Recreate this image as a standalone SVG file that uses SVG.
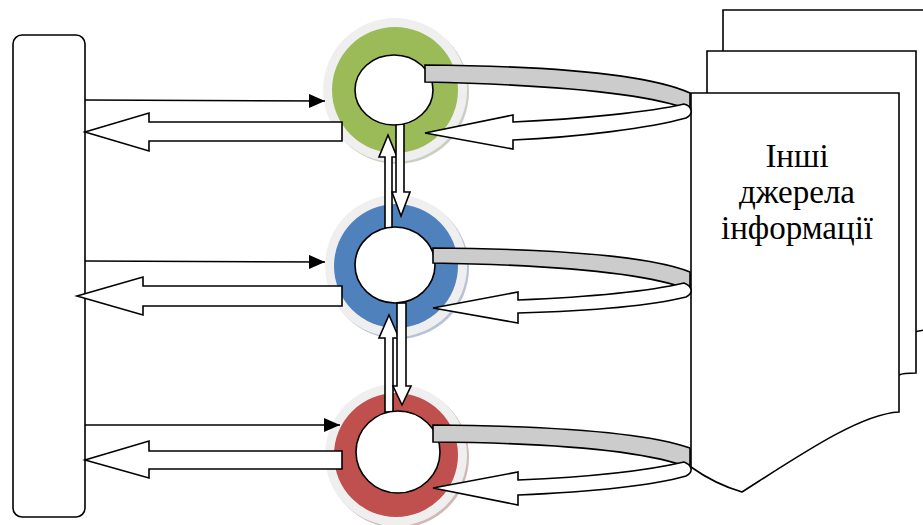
<svg xmlns="http://www.w3.org/2000/svg" width="923" height="525" viewBox="0 0 923 525">
<style>
.ol{stroke:#000;stroke-width:1.6;stroke-linejoin:miter}
.w{fill:#fff}
.band{fill:#cccccc}
.halo{fill:#efefef}
.thin{stroke:#000;stroke-width:1.6;fill:none}
.lbl{font-family:"Times New Roman","Liberation Serif",Tinos,"DejaVu Serif",serif;font-size:33px;fill:#000;text-anchor:middle}
</style>
<defs>
<marker id="ah" viewBox="0 0 16 14" refX="16" refY="7" markerWidth="16" markerHeight="14" markerUnits="userSpaceOnUse" orient="auto">
<path d="M0,0 L16,7 L0,14 Z" fill="#000"/>
</marker>
</defs>
<rect width="923" height="525" fill="#fff"/>

<g id="source-box">
<rect class="ol w" x="13" y="35" width="72" height="482" rx="9"/>
</g>

<g id="documents">
<path class="ol w" d="M723,10 H935 V328 C 925,330 917,331 910,333 L723,333 Z"/>
<path class="ol w" d="M707,51 H916 V373 C 910,373 903,373 899,375 L707,375 Z"/>
<path class="ol w" d="M691,93 H899 V412 C 860,414 800,455 742,492 C 725,487 705,477 691,467 Z"/>
<text class="lbl" x="797" y="167">Інші</text>
<text class="lbl" x="797" y="203">джерела</text>
<text class="lbl" x="797" y="239">інформації</text>
</g>

<g id="node-green">
<circle cx="397" cy="92" r="72" fill="#b4bca4" opacity="0.7"/>
<circle class="halo" cx="395" cy="90" r="72"/>
<circle cx="395" cy="90" r="63" fill="#9BBB59"/>
</g>
<g id="node-blue">
<circle cx="398" cy="268" r="71" fill="#9aaac4" opacity="0.7"/>
<circle class="halo" cx="396" cy="266" r="71"/>
<circle cx="396" cy="266" r="62" fill="#4F81BD"/>
</g>
<g id="node-red">
<circle cx="398" cy="457" r="71" fill="#bf9b9a" opacity="0.7"/>
<circle class="halo" cx="396" cy="455" r="71"/>
<circle cx="396" cy="455" r="62" fill="#C0504D"/>
</g>

<g id="connectors">
<line class="thin" x1="85" y1="100" x2="325" y2="101" marker-end="url(#ah)"/>
<line class="thin" x1="85" y1="261" x2="325" y2="262" marker-end="url(#ah)"/>
<line class="thin" x1="85" y1="425" x2="340" y2="425" marker-end="url(#ah)"/>
<path class="ol w" d="M342,122 L149,122 L149,113 L85,132 L149,151 L149,141 L342,141 Z"/>
<path class="ol w" d="M342,286 L143,286 L143,277 L77,296 L143,315 L143,306 L342,306 Z"/>
<path class="ol w" d="M342,451 L149,451 L149,441 L85,460 L149,478 L149,469 L342,469 Z"/>

<path class="ol w" d="M388,135 L397,157 L392,157 L392,229 L385,229 L385,157 L379,157 Z"/>
<path class="ol w" d="M396,124 L404,124 L404,192 L410,192 L401,216 L392,192 L396,192 Z"/>
<path class="ol w" d="M389,315 L399,338 L393,338 L393,412 L385,412 L385,338 L379,338 Z"/>
<path class="ol w" d="M397,303 L406,303 L406,386 L411,386 L402,405 L393,386 L397,386 Z"/>
</g>

<g id="inner-circles">
<ellipse class="ol w" cx="394" cy="90" rx="39" ry="35"/>
<ellipse class="ol w" cx="395" cy="265" rx="40" ry="38"/>
<ellipse class="ol w" cx="398" cy="452" rx="42" ry="41"/>
</g>

<g id="loops">
<path class="ol band" d="M425,65 C 560,66 650,75 690,93 L690,110 C 650,94 560,85 425,82 Z"/>
<path class="ol w" d="M513,122 C 580,119 650,112 684,104 C 692,106 694,114 686,118 C 650,128 580,137 513,140 L513,149 L425,133 L513,115 Z"/>
<path class="ol band" d="M433,248 C 560,249 650,256 690,272 L690,290 C 650,274 560,265 433,263 Z"/>
<path class="ol w" d="M518,300 C 590,297 650,291 684,283 C 692,286 694,293 686,297 C 650,306 590,311 518,313 L518,323 L433,308 L518,292 Z"/>
<path class="ol band" d="M433,425 C 560,426 650,434 690,448 L690,468 C 650,452 560,443 433,442 Z"/>
<path class="ol w" d="M518,480 C 590,477 650,470 684,462 C 692,465 694,472 686,476 C 650,486 590,492 518,495 L518,505 L433,488 L518,472 Z"/>
</g>
</svg>
